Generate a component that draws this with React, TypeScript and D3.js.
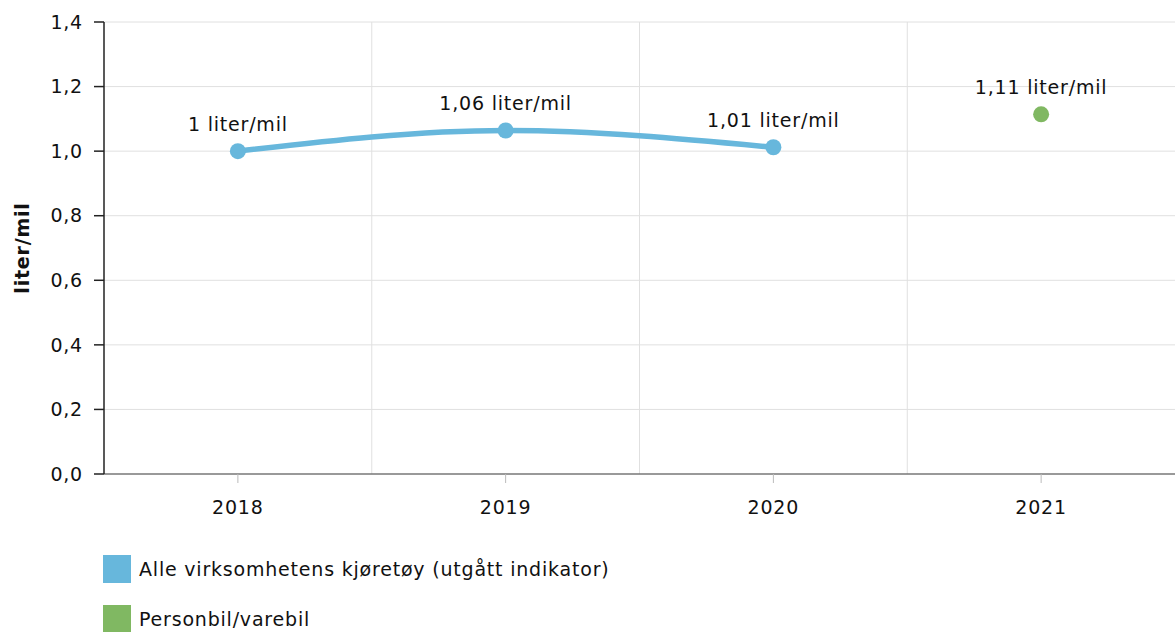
import { useEffect, useRef } from 'react'
import * as d3 from 'd3'

const years = ['2018', '2019', '2020', '2021']
const allVehicles = [1.0, 1.064, 1.012, null]
const carVan = [null, null, null, 1.114]
const yTicks = [0, 0.2, 0.4, 0.6, 0.8, 1.0, 1.2, 1.4]
const seriesNames = ['Alle virksomhetens kjøretøy (utgått indikator)', 'Personbil/varebil']
const seriesColors = ['#67b7dc', '#80b862']

const W = 1175
const H = 632
const FONT = '"DejaVu Sans", Verdana, sans-serif'
const FS = '19px'
const LS = '0.8px'

const fmt = (v: number) => {
  const r = Math.round(v * 100) / 100
  return String(r).replace('.', ',') + ' liter/mil'
}

export default function App() {
  const svgRef = useRef<SVGSVGElement>(null)

  useEffect(() => {
    if (!svgRef.current) return
    const svg = d3.select(svgRef.current)
    svg.selectAll('*').remove()

    const margin = { top: 22, right: 0, bottom: 158, left: 104 }
    const innerW = W - margin.left - margin.right
    const innerH = H - margin.top - margin.bottom

    const x = d3.scaleBand().domain(years).range([0, innerW])
    const y = d3.scaleLinear().domain([0, 1.4]).range([innerH, 0])

    const g = svg.append('g').attr('transform', `translate(${margin.left},${margin.top})`)

    const label = (sel: d3.Selection<any, any, any, any>) =>
      sel
        .style('font-family', FONT)
        .style('font-size', FS)
        .style('letter-spacing', LS)
        .style('fill', '#111')

    // horizontal grid
    g.append('g')
      .selectAll('line')
      .data(yTicks.slice(1))
      .join('line')
      .attr('x1', 0)
      .attr('x2', innerW)
      .attr('y1', d => y(d))
      .attr('y2', d => y(d))
      .attr('stroke', '#e0e0e0')
      .attr('stroke-width', 1)

    // vertical grid at band boundaries
    g.append('g')
      .selectAll('line')
      .data(years.slice(1))
      .join('line')
      .attr('x1', d => x(d)!)
      .attr('x2', d => x(d)!)
      .attr('y1', 0)
      .attr('y2', innerH)
      .attr('stroke', '#e0e0e0')
      .attr('stroke-width', 1)

    // x axis
    const xAxis = g.append('g').attr('transform', `translate(0,${innerH})`)
    xAxis.append('line').attr('x1', 0).attr('x2', innerW).attr('stroke', '#777').attr('stroke-width', 1.5)
    xAxis
      .selectAll('line.tick')
      .data(years)
      .join('line')
      .attr('class', 'tick')
      .attr('x1', d => x(d)! + x.bandwidth() / 2)
      .attr('x2', d => x(d)! + x.bandwidth() / 2)
      .attr('y1', 0)
      .attr('y2', 9)
      .attr('stroke', '#bbb')
    xAxis
      .selectAll('text')
      .data(years)
      .join('text')
      .attr('x', d => x(d)! + x.bandwidth() / 2)
      .attr('y', 40)
      .attr('text-anchor', 'middle')
      .call(label)
      .text(d => d)

    // y axis
    const yAxis = g.append('g')
    yAxis.append('line').attr('x1', 0).attr('x2', 0).attr('y1', 0).attr('y2', innerH).attr('stroke', '#222').attr('stroke-width', 1.5)
    yAxis
      .selectAll('line.tick')
      .data(yTicks)
      .join('line')
      .attr('class', 'tick')
      .attr('x1', -10)
      .attr('x2', 0)
      .attr('y1', d => y(d))
      .attr('y2', d => y(d))
      .attr('stroke', '#222')
      .attr('stroke-width', 1.5)
    yAxis
      .selectAll('text')
      .data(yTicks)
      .join('text')
      .attr('x', -21)
      .attr('y', d => y(d))
      .attr('dy', '0.35em')
      .attr('text-anchor', 'end')
      .call(label)
      .text(d => d3.format('.1f')(d).replace('.', ','))

    svg
      .append('text')
      .attr('transform', `translate(29,${margin.top + innerH / 2}) rotate(-90)`)
      .attr('text-anchor', 'middle')
      .call(label)
      .style('font-weight', 'bold')
      .text('liter/mil')

    const cx = (i: number) => x(years[i])! + x.bandwidth() / 2

    const drawSeries = (vals: (number | null)[], color: string) => {
      const pts = vals.map((v, i) => ({ i, v })).filter(d => d.v !== null) as { i: number; v: number }[]
      const line = d3
        .line<{ i: number; v: number }>()
        .x(d => cx(d.i))
        .y(d => y(d.v))
        .curve(d3.curveMonotoneX)
      if (pts.length > 1) {
        g.append('path')
          .datum(pts)
          .attr('fill', 'none')
          .attr('stroke', color)
          .attr('stroke-width', 5.5)
          .attr('stroke-linecap', 'round')
          .attr('d', line)
      }
      g.append('g')
        .selectAll('circle')
        .data(pts)
        .join('circle')
        .attr('cx', d => cx(d.i))
        .attr('cy', d => y(d.v))
        .attr('r', 8)
        .attr('fill', color)
      g.append('g')
        .selectAll('text')
        .data(pts)
        .join('text')
        .attr('x', d => cx(d.i))
        .attr('y', d => y(d.v) - 20)
        .attr('text-anchor', 'middle')
        .call(label)
        .text(d => fmt(d.v))
    }

    drawSeries(allVehicles, seriesColors[0])
    drawSeries(carVan, seriesColors[1])

    // legend
    const legend = svg.append('g').attr('transform', `translate(103,555)`)
    seriesNames.forEach((name, i) => {
      const row = legend.append('g').attr('transform', `translate(0,${i * 50})`)
      row.append('rect').attr('width', 28).attr('height', 28).attr('fill', seriesColors[i])
      row
        .append('text')
        .attr('x', 36)
        .attr('y', 14)
        .attr('dy', '0.35em')
        .call(label)
        .text(name)
    })
  }, [])

  return (
    <svg
      ref={svgRef}
      width={W}
      height={H}
      style={{ position: 'absolute', left: 0, top: 0, background: '#fff' }}
    />
  )
}
